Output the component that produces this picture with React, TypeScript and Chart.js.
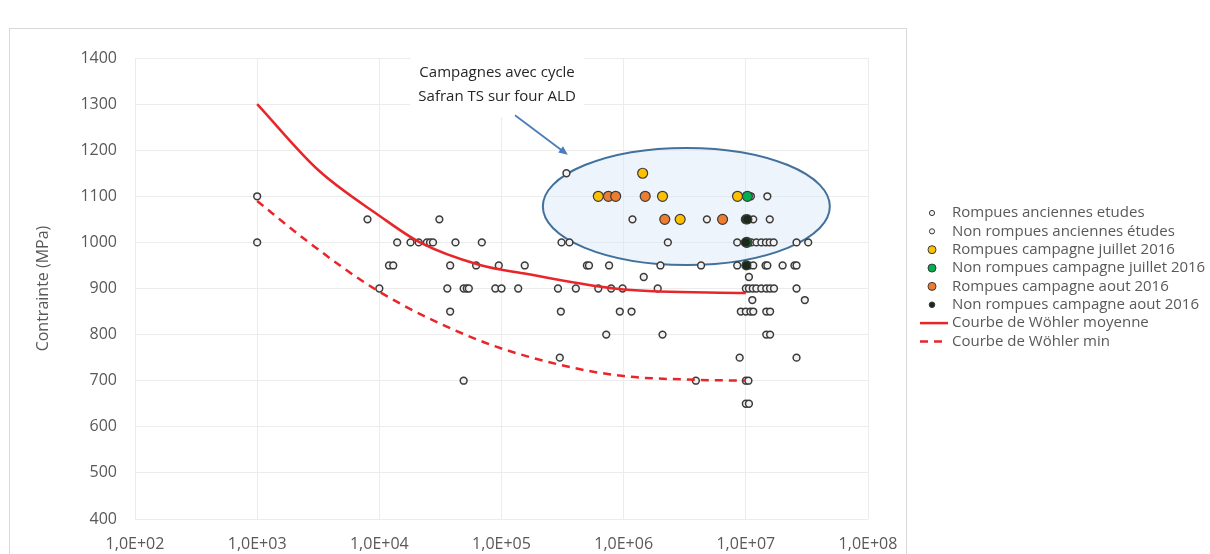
import React, { useEffect, useRef } from 'react';
import { Chart, registerables } from 'chart.js';

Chart.register(...registerables);

// ---- data: [cycles N, stress MPa] ----
const rompuesAnciennes: [number, number][] = [
  [1e3, 1100], [1e3, 1000],
  [3.4e5, 1150],
  [8e3, 1050], [3.1e4, 1050], [1.18e6, 1050], [4.8e6, 1050],
  [1.4e4, 1000], [1.8e4, 1000], [2.1e4, 1000], [2.45e4, 1000], [2.6e4, 1000], [2.75e4, 1000],
  [4.2e4, 1000], [6.9e4, 1000], [3.1e5, 1000], [3.6e5, 1000], [2.3e6, 1000],
  [1.2e4, 950], [1.3e4, 950], [3.8e4, 950], [6.2e4, 950], [9.5e4, 950], [1.55e5, 950],
  [5.0e5, 950], [5.2e5, 950], [7.6e5, 950], [2.0e6, 950], [4.3e6, 950],
  [1.46e6, 925],
  [1e4, 900], [3.6e4, 900], [4.9e4, 900], [5.2e4, 900], [5.4e4, 900], [8.9e4, 900], [1.0e5, 900],
  [1.37e5, 900], [2.9e5, 900], [4.06e5, 900], [6.2e5, 900], [7.9e5, 900], [9.8e5, 900], [1.9e6, 900],
  [3.8e4, 850], [3.06e5, 850], [9.3e5, 850], [1.16e6, 850],
  [7.2e5, 800], [2.08e6, 800],
  [3.0e5, 750],
  [4.9e4, 700], [3.9e6, 700],
];

const nonRompuesAnciennes: [number, number][] = [
  [1.1e7, 1100], [1.5e7, 1100],
  [1.15e7, 1050], [1.57e7, 1050],
  [8.5e6, 1000], [1.11e7, 1000], [1.22e7, 1000], [1.34e7, 1000], [1.46e7, 1000], [1.57e7, 1000],
  [1.69e7, 1000], [2.6e7, 1000], [3.24e7, 1000],
  [8.5e6, 950], [1.06e7, 950], [1.15e7, 950], [1.45e7, 950], [1.5e7, 950], [2.0e7, 950],
  [2.5e7, 950], [2.6e7, 950],
  [1.06e7, 925],
  [1.0e7, 900], [1.06e7, 900], [1.14e7, 900], [1.22e7, 900], [1.34e7, 900], [1.47e7, 900],
  [1.58e7, 900], [1.7e7, 900], [2.6e7, 900],
  [1.13e7, 875], [3.04e7, 875],
  [9.1e6, 850], [1.0e7, 850], [1.09e7, 850], [1.15e7, 850], [1.47e7, 850], [1.58e7, 850],
  [1.47e7, 800], [1.58e7, 800],
  [8.9e6, 750], [2.6e7, 750],
  [1.0e7, 700], [1.05e7, 700],
  [1.0e7, 650], [1.06e7, 650],
];

const rompuesJuillet: [number, number][] = [
  [6.2e5, 1100], [1.43e6, 1150], [2.08e6, 1100], [2.9e6, 1050], [8.55e6, 1100],
];

const nonRompuesJuillet: [number, number][] = [
  [1.03e7, 1100], [1.02e7, 1000],
];

const rompuesAout: [number, number][] = [
  [7.5e5, 1100], [8.6e5, 1100], [1.5e6, 1100], [2.17e6, 1050], [6.45e6, 1050],
];

const nonRompuesAout: [number, number][] = [
  [1.0e7, 1050], [1.03e7, 1050], [1.0e7, 1000], [1.01e7, 950],
];

const wohlerMoyenne: [number, number][] = [
  [1e3, 1300], [3.16e3, 1157], [1e4, 1058], [2.15e4, 1000], [6.65e4, 951],
  [1.5e5, 933], [1e6, 898], [1e7, 890],
];

const wohlerMin: [number, number][] = [
  [1e3, 1090], [2.5e3, 1005], [1e4, 893], [6.65e4, 787], [3.06e5, 734],
  [1e6, 710], [3.9e6, 702], [1e7, 700],
];

const xTickValues = [1e2, 1e3, 1e4, 1e5, 1e6, 1e7, 1e8];
const legendLabels = [
  'Rompues anciennes etudes',
  'Non rompues anciennes études',
  'Rompues campagne juillet 2016',
  'Non rompues campagne juillet 2016',
  'Rompues campagne aout 2016',
  'Non rompues campagne aout 2016',
  'Courbe de Wöhler moyenne',
  'Courbe de Wöhler min',
];
const annotationLines = ['Campagnes avec cycle', 'Safran TS sur four ALD'];
// annotation anchors in data coordinates
const ellipseBox = { nMin: 2.18e5, nMax: 4.87e7, sMin: 951, sMax: 1205 };
const arrowFrom: [number, number] = [1.29e5, 1276];
const arrowTo: [number, number] = [3.49e5, 1190];
const textAnchor: [number, number] = [9.2e4, 1341];

const FONT = '"Open Sans", "Noto Sans", sans-serif';
const toXY = (arr: [number, number][]) => arr.map(([x, y]) => ({ x, y }));

const fmtExp = (v: number) => {
  const e = Math.round(Math.log10(v));
  const m = v / Math.pow(10, e);
  return m.toFixed(1).replace('.', ',') + 'E+' + String(e).padStart(2, '0');
};

const overlayPlugin = {
  id: 'overlay',
  beforeDraw(chart: any) {
    const ctx = chart.ctx;
    ctx.save();
    ctx.fillStyle = '#ffffff';
    ctx.fillRect(0, 0, chart.width, chart.height);
    ctx.strokeStyle = '#d9d9d9';
    ctx.lineWidth = 1;
    ctx.strokeRect(9.5, 28.5, 897, 560);
    ctx.restore();
  },
  beforeDatasetsDraw(chart: any) {
    const { ctx, scales } = chart;
    const x = scales.x, y = scales.y;
    ctx.save();
    const x0 = x.getPixelForValue(ellipseBox.nMin);
    const x1 = x.getPixelForValue(ellipseBox.nMax);
    const y0 = y.getPixelForValue(ellipseBox.sMax);
    const y1 = y.getPixelForValue(ellipseBox.sMin);
    ctx.beginPath();
    ctx.ellipse((x0 + x1) / 2, (y0 + y1) / 2, (x1 - x0) / 2, (y1 - y0) / 2, 0, 0, Math.PI * 2);
    ctx.fillStyle = 'rgba(214,230,246,0.45)';
    ctx.fill();
    ctx.strokeStyle = '#41719c';
    ctx.lineWidth = 2;
    ctx.stroke();
    ctx.restore();
  },
  afterDatasetsDraw(chart: any) {
    const { ctx, scales } = chart;
    const x = scales.x, y = scales.y;
    ctx.save();
    // text box
    ctx.font = `15px ${FONT}`;
    const tx = x.getPixelForValue(textAnchor[0]);
    const ty = y.getPixelForValue(textAnchor[1]);
    const lh = 24;
    const w = Math.max(...annotationLines.map((l) => ctx.measureText(l).width)) + 16;
    ctx.fillStyle = '#ffffff';
    ctx.fillRect(tx - w / 2, ty - lh - 8, w, lh * 2 + 16);
    ctx.fillStyle = '#262626';
    ctx.textAlign = 'center';
    ctx.textBaseline = 'middle';
    annotationLines.forEach((l, i) => ctx.fillText(l, tx, ty + (i - 0.5) * lh));

    // arrow
    const ax0 = x.getPixelForValue(arrowFrom[0]);
    const ay0 = y.getPixelForValue(arrowFrom[1]);
    const ax1 = x.getPixelForValue(arrowTo[0]);
    const ay1 = y.getPixelForValue(arrowTo[1]);
    const ang = Math.atan2(ay1 - ay0, ax1 - ax0);
    ctx.strokeStyle = '#4a7ebb';
    ctx.fillStyle = '#4a7ebb';
    ctx.lineWidth = 1.8;
    ctx.beginPath();
    ctx.moveTo(ax0, ay0);
    ctx.lineTo(ax1 - 6 * Math.cos(ang), ay1 - 6 * Math.sin(ang));
    ctx.stroke();
    ctx.beginPath();
    ctx.moveTo(ax1, ay1);
    ctx.lineTo(ax1 - 9 * Math.cos(ang) + 4 * Math.sin(ang), ay1 - 9 * Math.sin(ang) - 4 * Math.cos(ang));
    ctx.lineTo(ax1 - 9 * Math.cos(ang) - 4 * Math.sin(ang), ay1 - 9 * Math.sin(ang) + 4 * Math.cos(ang));
    ctx.closePath();
    ctx.fill();
    ctx.restore();
  },
  afterDraw(chart: any) {
    const ctx = chart.ctx;
    ctx.save();
    ctx.font = `15px ${FONT}`;
    ctx.textBaseline = 'middle';
    ctx.textAlign = 'left';
    chart.data.datasets.forEach((ds: any, i: number) => {
      const ry = 213 + i * 18.35;
      if (ds.showLine) {
        ctx.beginPath();
        ctx.setLineDash(ds.borderDash || []);
        ctx.strokeStyle = ds.borderColor;
        ctx.lineWidth = ds.borderWidth;
        ctx.moveTo(920, ry);
        ctx.lineTo(948, ry);
        ctx.stroke();
        ctx.setLineDash([]);
      } else {
        ctx.beginPath();
        ctx.arc(932, ry, ds.legendRadius, 0, Math.PI * 2);
        ctx.fillStyle = ds.backgroundColor;
        ctx.fill();
        ctx.strokeStyle = ds.borderColor;
        ctx.lineWidth = 1;
        ctx.stroke();
      }
      ctx.fillStyle = '#595959';
      ctx.fillText(ds.label, 952, ry);
    });
    ctx.restore();
  },
};

export default function App() {
  const ref = useRef<HTMLCanvasElement | null>(null);

  useEffect(() => {
    document.body.style.margin = '0';
    document.body.style.overflow = 'hidden';
    if (!ref.current) return;
    const grayPt = (label: string, data: [number, number][], order: number) => ({
      label,
      data: toXY(data),
      pointRadius: 3.4,
      pointBorderWidth: 1.5,
      backgroundColor: '#f2f2f2',
      borderColor: '#3a3a3a',
      legendRadius: 2.6,
      order,
    });
    const colPt = (label: string, data: [number, number][], fill: string, r: number, order: number) => ({
      label,
      data: toXY(data),
      pointRadius: r,
      pointBorderWidth: 1.2,
      backgroundColor: fill,
      borderColor: '#3a3a3a',
      legendRadius: Math.min(r, 4),
      order,
    });
    const chart = new Chart(ref.current, {
      type: 'scatter',
      data: {
        datasets: [
          grayPt(legendLabels[0], rompuesAnciennes, 7),
          grayPt(legendLabels[1], nonRompuesAnciennes, 6),
          colPt(legendLabels[2], rompuesJuillet, '#ffc000', 5, 3),
          colPt(legendLabels[3], nonRompuesJuillet, '#00b050', 5, 2),
          colPt(legendLabels[4], rompuesAout, '#ed7d31', 5, 1),
          { ...colPt(legendLabels[5], nonRompuesAout, '#1a2a1a', 4.5, 0), legendRadius: 2.8 },
          {
            label: legendLabels[6],
            data: toXY(wohlerMoyenne),
            showLine: true,
            borderColor: '#e8262a',
            backgroundColor: '#e8262a',
            borderWidth: 2.5,
            pointRadius: 0,
            cubicInterpolationMode: 'monotone',
            order: 4,
          },
          {
            label: legendLabels[7],
            data: toXY(wohlerMin),
            showLine: true,
            borderColor: '#e8262a',
            backgroundColor: '#e8262a',
            borderWidth: 2.5,
            borderDash: [8, 6],
            pointRadius: 0,
            cubicInterpolationMode: 'monotone',
            order: 5,
          },
        ] as any,
      },
      options: {
        responsive: false,
        animation: false,
        events: [],
        layout: { padding: { left: 0, right: 342, top: 58, bottom: 0 } },
        plugins: { legend: { display: false }, tooltip: { enabled: false } },
        scales: {
          x: {
            type: 'logarithmic',
            min: 1e2,
            max: 1e8,
            afterBuildTicks: (scale: any) => {
              scale.ticks = xTickValues.map((v) => ({ value: v }));
            },
            afterFit: (scale: any) => {
              scale.height = 35;
            },
            grid: { color: '#ececec', lineWidth: 1, drawTicks: false },
            border: { display: false },
            ticks: {
              padding: 16,
              color: '#595959',
              font: { family: FONT, size: 16 },
              maxRotation: 0,
              autoSkip: false,
              callback: (v: any) => fmtExp(Number(v)),
            },
          },
          y: {
            type: 'linear',
            min: 400,
            max: 1400,
            afterFit: (scale: any) => {
              scale.width = 135;
            },
            grid: { color: '#ececec', lineWidth: 1, drawTicks: false },
            border: { display: false },
            ticks: {
              stepSize: 100,
              padding: 18,
              color: '#595959',
              font: { family: FONT, size: 16 },
              callback: (v: any) => String(v),
            },
            title: {
              display: true,
              text: 'Contrainte (MPa)',
              color: '#595959',
              font: { family: FONT, size: 16 },
              padding: { top: 34, bottom: 0 },
            },
          },
        },
      } as any,
      plugins: [overlayPlugin],
    });
    return () => chart.destroy();
  }, []);

  return (
    <div style={{ width: 1210, height: 554, position: 'relative' }}>
      <canvas ref={ref} width={1210} height={554} style={{ display: 'block' }} />
    </div>
  );
}
